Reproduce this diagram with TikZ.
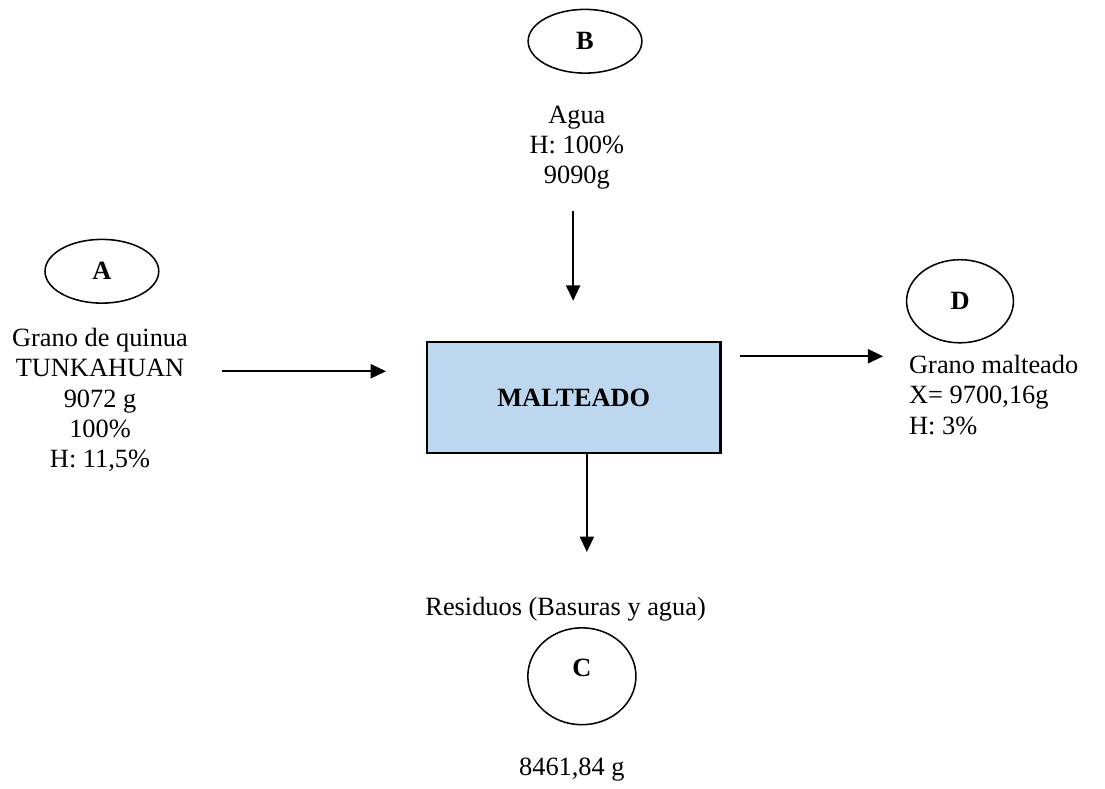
\documentclass[tikz,border=0pt]{standalone}
\usepackage{fontspec}
\setmainfont{Liberation Serif}
\usepackage{tikz}
\usetikzlibrary{arrows.meta,shapes.geometric,positioning}
\definecolor{boxblue}{RGB}{189,215,238}
\newcommand{\linethick}{0.7pt}
\newcommand{\boxthick}{1.1pt}
\newcommand{\txtsize}{\fontsize{12}{13.8}\selectfont}

\begin{document}
\begin{tikzpicture}[
  every node/.style={font=\txtsize},
  stream/.style={ellipse, draw, line width=\linethick, minimum width=1.82cm, minimum height=1.02cm, inner sep=0pt, font=\txtsize\bfseries},
  txt/.style={align=center, inner sep=0pt},
  flow/.style={-{Triangle[length=7pt,width=6.5pt]}, line width=\linethick}]
\useasboundingbox (0,0) rectangle (17.68,-12.61);
%streams
\node[stream] (B) at (9.36,-0.66) {B};
\node[stream] (A) at (1.63,-4.34) {A};
\node[stream, minimum width=1.71cm, minimum height=1.33cm] (D) at (15.36,-4.82) {D};
\node[stream, minimum width=1.73cm, minimum height=1.55cm, text depth=0.26cm] (C) at (9.31,-10.82) {C};
%process
\node[draw, line width=\boxthick, fill=boxblue, minimum width=4.69cm, minimum height=1.78cm, font=\txtsize\bfseries] (malteado) at (9.18,-6.36) {MALTEADO};
%texts
\node[txt] (agua) at (9.23,-2.36) {Agua\\H: 100\%\\9090g};
\node[txt] (grano) at (1.6,-6.40) {Grano de quinua\\TUNKAHUAN\\9072 g\\100\%\\H: 11,5\%};
\node[txt, align=left, anchor=west] (malta) at (14.54,-6.32) {Grano malteado\\X= 9700,16g\\H: 3\%};
\node[txt] (residuos) at (9.05,-9.74) {Residuos (Basuras y agua)};
\node[txt] (masa) at (9.15,-12.32) {8461,84 g};
%arrows
\coordinate (b0) at (9.17,-3.38);
\coordinate (a0) at (3.55,-5.94);
\coordinate (d1) at (14.13,-5.70);
\coordinate (c1) at (9.39,-8.83);
\draw[flow, shorten >=0.64cm] (b0) -- (b0 |- malteado.north);
\draw[flow, shorten >=0.64cm] (a0) -- (a0 -| malteado.west);
\draw[flow, shorten <=0.3cm] (d1 -| malteado.east) -- (d1);
\draw[flow] (c1 |- malteado.south) -- (c1);
\end{tikzpicture}
\end{document}
